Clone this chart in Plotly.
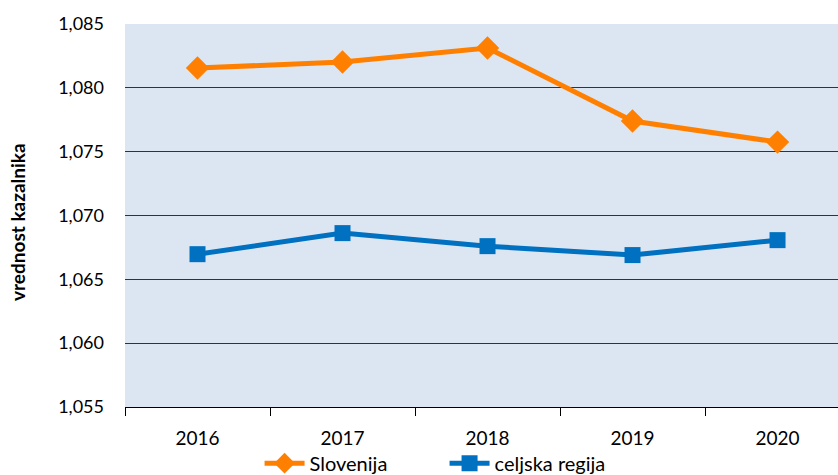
import plotly.graph_objects as go

years = ["2016", "2017", "2018", "2019", "2020"]
slovenija = [1.08155, 1.08202, 1.08312, 1.0774, 1.07575]
celjska = [1.06697, 1.06862, 1.0676, 1.0669, 1.06807]
y_ticks = [1.055, 1.060, 1.065, 1.070, 1.075, 1.080, 1.085]

fig = go.Figure()
fig.add_trace(go.Scatter(
    x=years, y=slovenija, name="Slovenija", mode="lines+markers",
    line=dict(color="#FF8000", width=5),
    marker=dict(symbol="diamond", size=18, color="#FF8000"),
))
fig.add_trace(go.Scatter(
    x=years, y=celjska, name="celjska regija", mode="lines+markers",
    line=dict(color="#0070C0", width=5),
    marker=dict(symbol="square", size=16, color="#0070C0"),
))

font_family = "Lato, 'Open Sans', sans-serif"
fig.update_layout(
    width=838, height=475,
    margin=dict(l=125, r=0, t=24, b=68, autoexpand=False),
    paper_bgcolor="white",
    plot_bgcolor="#DCE6F2",
    separators=",.",
    font=dict(family=font_family, size=18, color="black"),
    showlegend=True,
    legend=dict(orientation="h", xref="container", yref="container",
                x=0.5305, xanchor="center", y=0.025, yanchor="middle",
                font=dict(size=20), itemwidth=40, entrywidth=130, tracegroupgap=0,
                bgcolor="rgba(0,0,0,0)"),
    annotations=[dict(
        text="<b>vrednost kazalnika</b>", xref="paper", yref="paper",
        x=-125 / 713 + 18 / 713, y=(407 - 222) / 383, xanchor="center", yanchor="middle",
        textangle=-90, showarrow=False, font=dict(size=19, family=font_family),
    )],
)
fig.update_xaxes(
    type="category", range=[-0.5, 4.417], automargin=False,
    tickson="boundaries", ticks="outside", ticklen=8, tickcolor="black",
    showline=True, linecolor="black", linewidth=1,
    showgrid=False, tickfont=dict(size=19), ticklabelstandoff=14,
)
fig.update_yaxes(
    range=[1.055, 1.085], tickvals=y_ticks, tickformat=".3f", automargin=False,
    showgrid=True, gridcolor="#333333", gridwidth=1,
    zeroline=False, showline=False, ticks="", ticklabelstandoff=20,
    tickfont=dict(size=18),
)

fig.write_html("out.html", config={"displayModeBar": False},
               post_script="document.body.style.margin='0';")
